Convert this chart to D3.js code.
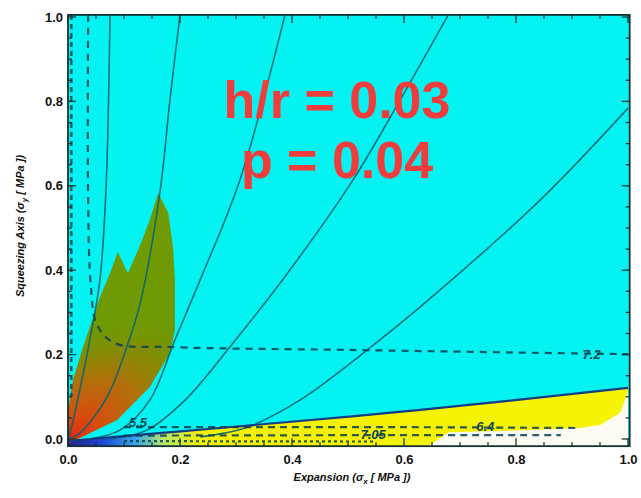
<!DOCTYPE html>
<html>
<head>
<meta charset="utf-8">
<script src="https://cdn.jsdelivr.net/npm/d3@7"></script>
<style>
  html, body { margin: 0; padding: 0; background: #ffffff; }
  svg { display: block; }
  text { font-family: "Liberation Sans", Arial, sans-serif; }
</style>
</head>
<body>
<svg id="chart" width="641" height="498"></svg>
<script>
// ---- data ----
const xTickValues = [0.0, 0.2, 0.4, 0.6, 0.8, 1.0];
const yTickValues = [0.0, 0.2, 0.4, 0.6, 0.8, 1.0];
const minorStep = 0.05;

// solid stress-ratio contours fanning out from the origin
const solidContours = [
  [[0, 0], [0.007, 0.033], [0.021, 0.116], [0.039, 0.235], [0.057, 0.377], [0.068, 0.597], [0.075, 1.005]],
  [[0, 0], [0.021, 0.014], [0.070, 0.100], [0.105, 0.218], [0.129, 0.322], [0.164, 0.583], [0.182, 0.803], [0.2, 1.005]],
  [[0.039, 0.0], [0.093, 0.021], [0.146, 0.092], [0.191, 0.235], [0.236, 0.377], [0.307, 0.614], [0.3875, 1.005]],
  [[0.075, 0.0], [0.141, 0.021], [0.209, 0.092], [0.289, 0.218], [0.396, 0.400], [0.509, 0.614], [0.593, 0.803], [0.679, 1.005]],
  [[0.236, 0.005], [0.320, 0.028], [0.414, 0.092], [0.557, 0.235], [0.629, 0.313], [0.843, 0.566], [1.0, 0.784]]
];

// dashed contours with their labels
const dashedLeftEdge = [[0.006, 1.005], [0.006, 0.10]];
const dashed72 = [[0.036, 1.005], [0.036, 0.566], [0.041, 0.36], [0.052, 0.27], [0.084, 0.227], [0.182, 0.218], [0.504, 0.211], [1.0, 0.201]];
const dashedLow1 = [[0.10, 0.028], [0.30, 0.028], [0.60, 0.028], [0.91, 0.026]];
const dashedLow2 = [[0.10, 0.008], [0.50, 0.009], [0.88, 0.009]];
const dashedFloor = [[0.10, -0.005], [0.55, -0.006]];
const contourLabels = [
  { text: "7.2", x: 0.935, y: 0.201 },
  { text: "6.4", x: 0.745, y: 0.030 },
  { text: "7.05", x: 0.545, y: 0.010 },
  { text: "5.5", x: 0.125, y: 0.040 }
];

// stable (yellow) region under its boundary, and the empty corner
const yellowBoundary = [[0, -0.005], [0.146, 0.012], [0.271, 0.026], [0.629, 0.069], [1.0, 0.121]];
const whiteCorner = [[1.0, 0.112], [0.986, 0.062], [0.95, 0.033], [0.914, 0.026], [0.8, 0.020], [0.68, 0.016], [0.64, -0.02], [1.0, -0.02]];

// failure envelope (green/orange region)
const failureRegion = [
  [0, -0.005], [0, 0.062], [0.009, 0.140], [0.027, 0.218], [0.045, 0.289], [0.057, 0.336],
  [0.075, 0.393], [0.089, 0.443], [0.107, 0.393], [0.129, 0.460], [0.146, 0.519], [0.161, 0.583],
  [0.179, 0.536], [0.1875, 0.455], [0.191, 0.377], [0.191, 0.258], [0.182, 0.204], [0.146, 0.123],
  [0.0875, 0.045], [0.039, 0.014], [0.004, -0.009]
];

const annotationLines = ["h/r = 0.03", "p = 0.04"];

// ---- drawing ----
const svg = d3.select("#chart");
const x = d3.scaleLinear().domain([0, 1]).range([68, 628]);
const y = d3.scaleLinear().domain([0, 1]).range([439, 17]);
const xMin = 0, xMax = 1.003, yMin = -0.017, yMax = 1.005;

const defs = svg.append("defs");
defs.append("clipPath").attr("id", "plotClip")
  .append("rect")
  .attr("x", x(xMin)).attr("y", y(yMax))
  .attr("width", x(xMax) - x(xMin)).attr("height", y(yMin) - y(yMax));

const bandGrad = defs.append("linearGradient").attr("id", "bandGrad")
  .attr("gradientUnits", "userSpaceOnUse")
  .attr("x1", x(0)).attr("x2", x(1)).attr("y1", 0).attr("y2", 0);
[[0, "#2b1c8c"], [0.06, "#1d45d2"], [0.12, "#35a4ee"], [0.17, "#b9e66a"], [0.24, "#f3ef05"], [1, "#f6f404"]]
  .forEach(([o, c]) => bandGrad.append("stop").attr("offset", o).attr("stop-color", c));

// warm core of the failure envelope: an ellipse tilted toward the lower-right edge
const cx0 = x(0), cy0 = y(-0.005);
const hotGrad = defs.append("radialGradient").attr("id", "hotGrad")
  .attr("gradientUnits", "userSpaceOnUse")
  .attr("cx", cx0).attr("cy", cy0).attr("r", 95)
  .attr("gradientTransform", `translate(${cx0},${cy0}) rotate(-38) scale(1.75,1) translate(${-cx0},${-cy0})`);
[[0, "#ea2410", 1], [0.2, "#de470e", 0.95], [0.5, "#c2660c", 0.78], [0.75, "#9e7a06", 0.38], [0.95, "#7a9000", 0]]
  .forEach(([o, c, a]) => hotGrad.append("stop").attr("offset", o).attr("stop-color", c).attr("stop-opacity", a));

const plot = svg.append("g").attr("clip-path", "url(#plotClip)");

plot.append("rect")
  .attr("x", x(xMin)).attr("y", y(yMax))
  .attr("width", x(xMax) - x(xMin)).attr("height", y(yMin) - y(yMax))
  .attr("fill", "#05f2f2");

const area = d3.line().x(d => x(d[0])).y(d => y(d[1]));
const smooth = d3.line().x(d => x(d[0])).y(d => y(d[1])).curve(d3.curveCatmullRom.alpha(0.5));

// stable band
const bandPoly = yellowBoundary.concat([[1.0, -0.03], [0, -0.03]]);
plot.append("path").attr("d", area(bandPoly) + "Z").attr("fill", "url(#bandGrad)");
plot.append("path").attr("d", area(whiteCorner) + "Z").attr("fill", "#fbfbf4");

// failure envelope
plot.append("path").attr("d", area(failureRegion) + "Z").attr("fill", "#6f9a04");
plot.append("path").attr("d", area(failureRegion) + "Z").attr("fill", "url(#hotGrad)");

// solid contours
plot.selectAll("path.contour").data(solidContours).join("path")
  .attr("class", "contour")
  .attr("d", smooth)
  .attr("fill", "none")
  .attr("stroke", "#0b6470")
  .attr("stroke-width", 1.6)
  .attr("stroke-opacity", 0.9);

// band boundary
plot.append("path").attr("d", smooth(yellowBoundary))
  .attr("fill", "none").attr("stroke", "#123c84").attr("stroke-width", 2.2);

// dashed contours
const dashed = [
  { pts: dashedLeftEdge, w: 2.4, dash: "5,4" },
  { pts: dashed72, w: 2.2, dash: "7,6" },
  { pts: dashedLow1, w: 2.2, dash: "7,5" },
  { pts: dashedLow2, w: 2.2, dash: "7,5" },
  { pts: dashedFloor, w: 2.2, dash: "3,3" }
];
plot.selectAll("path.dashed").data(dashed).join("path")
  .attr("class", "dashed")
  .attr("d", d => smooth(d.pts))
  .attr("fill", "none")
  .attr("stroke", "#0d3f52")
  .attr("stroke-width", d => d.w)
  .attr("stroke-dasharray", d => d.dash)
  .attr("stroke-opacity", 0.85);

plot.selectAll("text.clabel").data(contourLabels).join("text")
  .attr("class", "clabel")
  .attr("x", d => x(d.x)).attr("y", d => y(d.y))
  .attr("dy", "0.35em")
  .attr("text-anchor", "middle")
  .attr("font-size", 13).attr("font-style", "italic").attr("font-weight", "bold")
  .attr("fill", "#0f4656")
  .text(d => d.text);

// inner ticks on all four sides
const minorX = d3.range(0, 1.0001, minorStep);
const minorY = d3.range(0, 1.0001, minorStep);
const isMajor = v => Math.abs(v * 5 - Math.round(v * 5)) < 1e-6;
const tickG = svg.append("g").attr("stroke", "#16363a").attr("stroke-width", 1.3);
minorX.forEach(v => {
  const L = isMajor(v) ? 8 : 4;
  tickG.append("line").attr("x1", x(v)).attr("x2", x(v)).attr("y1", y(yMin)).attr("y2", y(yMin) - L);
  tickG.append("line").attr("x1", x(v)).attr("x2", x(v)).attr("y1", y(yMax)).attr("y2", y(yMax) + L);
});
minorY.forEach(v => {
  const L = isMajor(v) ? 8 : 4;
  tickG.append("line").attr("x1", x(xMin)).attr("x2", x(xMin) + L).attr("y1", y(v)).attr("y2", y(v));
  tickG.append("line").attr("x1", x(xMax)).attr("x2", x(xMax) - L).attr("y1", y(v)).attr("y2", y(v));
});

// frame
svg.append("rect")
  .attr("x", x(xMin)).attr("y", y(yMax))
  .attr("width", x(xMax) - x(xMin)).attr("height", y(yMin) - y(yMax))
  .attr("fill", "none").attr("stroke", "#14302f").attr("stroke-width", 1.8);

// axes (labels only, ticks drawn above)
const fmt = d3.format(".1f");
const xAxis = svg.append("g").attr("transform", `translate(0,${y(yMin)})`)
  .call(d3.axisBottom(x).tickValues(xTickValues).tickFormat(fmt).tickSize(0).tickPadding(9));
const yAxis = svg.append("g").attr("transform", `translate(${x(xMin)},0)`)
  .call(d3.axisLeft(y).tickValues(yTickValues).tickFormat(fmt).tickSize(0).tickPadding(5));
[xAxis, yAxis].forEach(g => {
  g.select(".domain").remove();
  g.selectAll("text").attr("font-size", 13).attr("font-weight", "bold")
    .attr("fill", "#111").attr("font-family", "'Liberation Sans', Arial, sans-serif");
});

// axis titles
const xTitle = svg.append("text")
  .attr("x", 352).attr("y", 481)
  .attr("text-anchor", "middle")
  .attr("font-size", 11).attr("font-weight", "bold").attr("font-style", "italic")
  .attr("fill", "#111");
xTitle.append("tspan").text("Expansion (σ");
xTitle.append("tspan").attr("font-size", 8).attr("dy", 3).text("x");
xTitle.append("tspan").attr("dy", -3).text(" [ MPa ])");

const yTitle = svg.append("text")
  .attr("transform", "translate(24,226) rotate(-90)")
  .attr("text-anchor", "middle")
  .attr("font-size", 11).attr("font-weight", "bold").attr("font-style", "italic")
  .attr("fill", "#111");
yTitle.append("tspan").text("Squeezing Axis (σ");
yTitle.append("tspan").attr("font-size", 8).attr("dy", 3).text("y");
yTitle.append("tspan").attr("dy", -3).text(" [ MPa ])");

// parameter annotation
svg.selectAll("text.note").data(annotationLines).join("text")
  .attr("class", "note")
  .attr("x", 337)
  .attr("y", (d, i) => 118 + i * 60)
  .attr("text-anchor", "middle")
  .attr("font-size", 52).attr("font-weight", "bold")
  .attr("fill", "#f23b3b")
  .text(d => d);
</script>
</body>
</html>
